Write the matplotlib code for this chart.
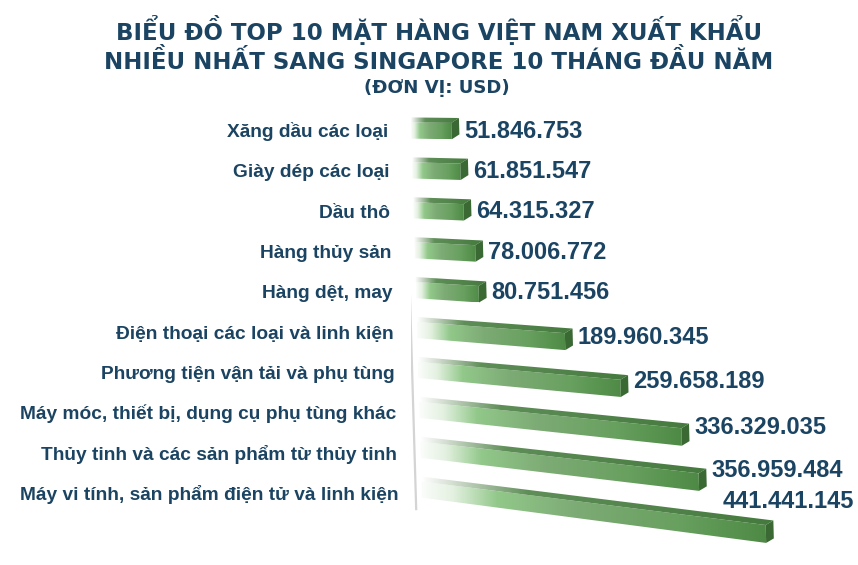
import matplotlib
matplotlib.use("Agg")
import matplotlib.pyplot as plt
import numpy as np
from matplotlib.patches import Polygon
from matplotlib.colors import LinearSegmentedColormap
from matplotlib import font_manager

# ---------------- data ----------------
categories = [
    "Xăng dầu các loại",
    "Giày dép các loại",
    "Dầu thô",
    "Hàng thủy sản",
    "Hàng dệt, may",
    "Điện thoại các loại và linh kiện",
    "Phương tiện vận tải và phụ tùng",
    "Máy móc, thiết bị, dụng cụ phụ tùng khác",
    "Thủy tinh và các sản phẩm từ thủy tinh",
    "Máy vi tính, sản phẩm điện tử và linh kiện",
]
values = [51846753, 61851547, 64315327, 78006772, 80751456,
          189960345, 259658189, 336329035, 356959484, 441441145]
title_lines = ["BIỂU ĐỒ TOP 10 MẶT HÀNG VIỆT NAM XUẤT KHẨU",
               "NHIỀU NHẤT SANG SINGAPORE 10 THÁNG ĐẦU NĂM"]
subtitle = "(ĐƠN VỊ: USD)"

# ---------------- style ----------------
W_PX, H_PX = 858, 565
NAVY = "#1b4462"
names = {f.name for f in font_manager.fontManager.ttflist}
LAB_FONT = "Liberation Sans" if "Liberation Sans" in names else "DejaVu Sans"
TITLE_FONT = "DejaVu Sans"

fig = plt.figure(figsize=(W_PX / 100, H_PX / 100), dpi=100)
fig.patch.set_facecolor("white")

# axes geometry (pixels)
ax_left_px = 411
px_per_M = 0.78
row0_px, row_step_px, ax_top_px = 128, 39.9, 100
ax = fig.add_axes([ax_left_px / W_PX, 0, 1 - ax_left_px / W_PX, (H_PX - ax_top_px) / H_PX])
xmax = (W_PX - ax_left_px) / px_per_M
ax.set_xlim(0, xmax)
ax.set_ylim((H_PX - row0_px) / row_step_px, (ax_top_px - row0_px) / row_step_px)
ax.axis("off")

# perspective parameters (style)
K = 0.000246   # droop per million per row
RH = -1.18     # horizon row
SH = 1.5       # shear (M per row)


def proj(x, r):
    x = np.asarray(x, float)
    r = np.asarray(r, float)
    return x + SH * r, r + K * (r - RH) * x


def grad_fill(poly_xy, x0, x1, stops):
    poly = Polygon(poly_xy, closed=True, facecolor="none", edgecolor="none")
    ax.add_patch(poly)
    cmap = LinearSegmentedColormap.from_list("g", stops)
    xs = np.linspace(0, 1, 256)
    img = cmap(xs)[None, :, :]
    ys = poly_xy[:, 1]
    im = ax.imshow(img, extent=(x0, x1, ys.max(), ys.min()), aspect="auto",
                   interpolation="bilinear", zorder=2)
    im.set_clip_path(poly)


front_stops = [(0, "#fbfdfb"), (0.09, "#e4f1e1"), (0.22, "#92c88a"),
               (0.45, "#7dab75"), (0.75, "#68a05f"), (1.0, "#4e8a45")]
top_stops = [(0, "#ffffff"), (0.08, "#d8e1d6"), (0.3, "#5f8e58"), (1.0, "#457a3e")]
END_COLOR = "#3a6934"

HT = 0.265    # half total height in rows
DZ = 0.125    # top face depth (rows)
DX = 10.0     # depth shift along x (M)

# axis line
rr = np.array([-0.55, 9.6])
lx, ly = proj(np.array([-7.7, -7.7]), rr)
ax.plot(lx, ly, color="#d4d4d4", lw=1.6, zorder=1, solid_capstyle="butt")

value_texts = []
for i, (cat, v) in enumerate(zip(categories, values)):
    r = i
    vm = v / 1e6
    top_back = r - HT
    top_front = r - HT + DZ
    bottom = r + HT
    # front face
    fx, fy = proj([0, vm, vm, 0], [top_front, top_front, bottom, bottom])
    fxy = np.column_stack([fx, fy])
    grad_fill(fxy, fx.min(), fx.max(), front_stops)
    # top face
    tx, ty = proj([0, vm, vm + DX, 0], [top_front, top_front, top_back, top_back])
    txy = np.column_stack([tx, ty])
    grad_fill(txy, tx.min(), tx.max(), top_stops)
    # end face
    ex, ey = proj([vm, vm + DX, vm + DX, vm], [top_front, top_back, bottom - DZ, bottom])
    ax.add_patch(Polygon(np.column_stack([ex, ey]), closed=True, facecolor=END_COLOR,
                         edgecolor="none", zorder=3))
    # category label
    cx, _ = proj(-29.5, r)
    ax.text(cx, r + 0.22 + 0.012 * r, cat, ha="right", va="baseline", fontsize=13.8,
            fontweight="bold", color=NAVY, family=LAB_FONT)
    # value label
    drop = K * (r - RH) * vm
    vx, _ = proj(vm + DX + 6.0, r)
    t = ax.text(vx, r + 0.23 + 0.65 * drop, f"{v:,}".replace(",", "."), ha="left",
                va="baseline", fontsize=17, fontweight="bold", color=NAVY,
                family=LAB_FONT, zorder=5)
    value_texts.append((t, r, vm))

# keep value labels inside the figure
fig.canvas.draw()
renderer = fig.canvas.get_renderer()
inv = ax.transData.inverted()
for t, r, vm in value_texts:
    bb = t.get_window_extent(renderer)
    if bb.x1 > W_PX - 4:
        new_left = W_PX - 4 - bb.width
        xd, _ = inv.transform((new_left, 0))
        _, ytop = proj(xd - SH * r, r - HT)
        ytop_disp = ax.transData.transform((xd, ytop))[1]
        base = ytop_disp + 6
        _, yd = inv.transform((new_left, base))
        t.set_position((xd, yd))

# titles
fig.text(439 / W_PX, 1 - 40 / H_PX, title_lines[0], ha="center", va="baseline",
         fontsize=16.5, fontweight="bold", color=NAVY, family=TITLE_FONT)
fig.text(439 / W_PX, 1 - 69.3 / H_PX, title_lines[1], ha="center", va="baseline",
         fontsize=16.5, fontweight="bold", color=NAVY, family=TITLE_FONT)
fig.text(437 / W_PX, 1 - 93.3 / H_PX, subtitle, ha="center", va="baseline",
         fontsize=13.1, fontweight="bold", color=NAVY, family=TITLE_FONT)

fig.savefig("out.png", dpi=100, facecolor="white")
